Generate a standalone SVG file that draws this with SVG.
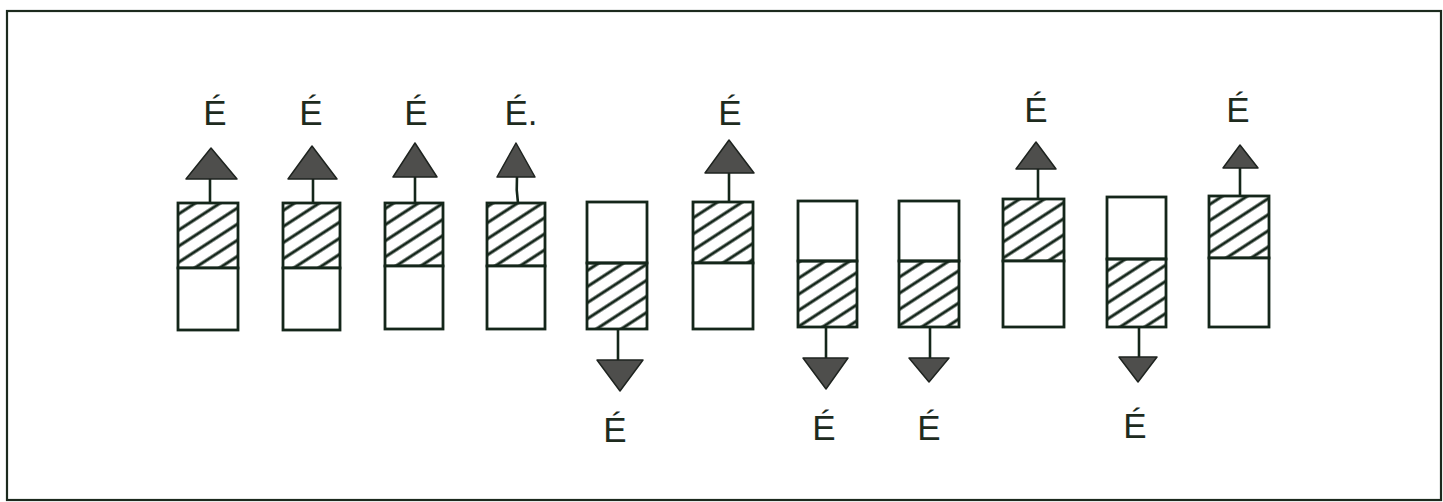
<svg xmlns="http://www.w3.org/2000/svg" width="1443" height="502" viewBox="0 0 1443 502">
  <defs>
    <pattern id="hatch" patternUnits="userSpaceOnUse" width="13.5" height="13.5" patternTransform="rotate(-33)">
      <line x1="0" y1="6.75" x2="13.5" y2="6.75" stroke="#14261a" stroke-width="3"/>
    </pattern>
  </defs>
  <style>
    .frame { fill: #ffffff; stroke: #1c2a1e; stroke-width: 2.2; }
    .cell { fill: #ffffff; stroke: #14261a; stroke-width: 2.8; }
    .hatched { fill: url(#hatch); stroke: #14261a; stroke-width: 2.8; }
    .stem { stroke: #14261a; stroke-width: 2.6; fill: none; }
    .head { fill: #4e4e4c; stroke: #1e231f; stroke-width: 1.5; stroke-linejoin: round; }
    .lbl { font-family: "Liberation Sans", Arial, sans-serif; font-size: 35px; fill: #1e2b1e; text-anchor: middle; }
  </style>

  <rect class="frame" x="7" y="11" width="1434" height="489"/>

  <!-- columns: hatched upper half emits upward, hatched lower half emits downward -->
  <g id="col1">
    <rect class="hatched" x="178" y="203" width="60" height="65"/>
    <rect class="cell" x="178" y="268" width="60" height="62"/>
    <text class="lbl" x="215" y="125">É</text>
  </g>
  <g id="col2">
    <rect class="hatched" x="283" y="203" width="57" height="65"/>
    <rect class="cell" x="283" y="268" width="57" height="62"/>
    <text class="lbl" x="311" y="125">É</text>
  </g>
  <g id="col3">
    <rect class="hatched" x="385" y="203" width="58" height="63"/>
    <rect class="cell" x="385" y="266" width="58" height="63"/>
    <text class="lbl" x="416" y="125">É</text>
  </g>
  <g id="col4">
    <rect class="hatched" x="487" y="203" width="58" height="63"/>
    <rect class="cell" x="487" y="266" width="58" height="63"/>
    <text class="lbl" x="521" y="125">É.</text>
  </g>
  <g id="col5">
    <rect class="cell" x="587" y="202" width="60" height="61"/>
    <rect class="hatched" x="587" y="263" width="60" height="66"/>
    <text class="lbl" x="615" y="442">É</text>
  </g>
  <g id="col6">
    <rect class="hatched" x="693" y="202" width="60" height="61"/>
    <rect class="cell" x="693" y="263" width="60" height="66"/>
    <text class="lbl" x="730" y="125">É</text>
  </g>
  <g id="col7">
    <rect class="cell" x="798" y="201" width="59" height="60"/>
    <rect class="hatched" x="798" y="261" width="59" height="66"/>
    <text class="lbl" x="824" y="440">É</text>
  </g>
  <g id="col8">
    <rect class="cell" x="899" y="201" width="60" height="60"/>
    <rect class="hatched" x="899" y="261" width="60" height="66"/>
    <text class="lbl" x="929" y="440">É</text>
  </g>
  <g id="col9">
    <rect class="hatched" x="1003" y="199" width="61" height="62"/>
    <rect class="cell" x="1003" y="261" width="61" height="66"/>
    <text class="lbl" x="1036" y="122">É</text>
  </g>
  <g id="col10">
    <rect class="cell" x="1107" y="197" width="59" height="62"/>
    <rect class="hatched" x="1107" y="259" width="59" height="68"/>
    <text class="lbl" x="1135" y="438">É</text>
  </g>
  <g id="col11">
    <rect class="hatched" x="1209" y="196" width="60" height="62"/>
    <rect class="cell" x="1209" y="258" width="60" height="69"/>
    <text class="lbl" x="1238" y="122">É</text>
  </g>

  <!-- emission arrows -->
  <g id="connectors">
    <line class="stem" x1="210" y1="203" x2="210" y2="178"/>
    <polygon class="head" points="186,179 237,179 211,148"/>

    <line class="stem" x1="313" y1="203" x2="313" y2="178"/>
    <polygon class="head" points="288,179 337,179 312,146"/>

    <line class="stem" x1="415" y1="203" x2="415" y2="176"/>
    <polygon class="head" points="393,177 437,177 415,143"/>

    <path class="stem" d="M518,203 Q516,190 517,176"/>
    <polygon class="head" points="497,177 535,177 516,143"/>

    <line class="stem" x1="618" y1="329" x2="618" y2="361"/>
    <polygon class="head" points="597,360 643,360 620,391"/>

    <line class="stem" x1="729" y1="202" x2="729" y2="172"/>
    <polygon class="head" points="705,173 754,173 729,140"/>

    <line class="stem" x1="826" y1="327" x2="826" y2="359"/>
    <polygon class="head" points="803,358 848,358 826,389"/>

    <line class="stem" x1="930" y1="327" x2="930" y2="359"/>
    <polygon class="head" points="909,358 949,358 929,382"/>

    <line class="stem" x1="1038" y1="199" x2="1038" y2="168"/>
    <polygon class="head" points="1016,169 1056,169 1036,142"/>

    <line class="stem" x1="1139" y1="327" x2="1139" y2="358"/>
    <polygon class="head" points="1119,357 1157,357 1138,382"/>

    <line class="stem" x1="1240" y1="196" x2="1240" y2="167"/>
    <polygon class="head" points="1223,168 1258,168 1240,145"/>
  </g>
</svg>
